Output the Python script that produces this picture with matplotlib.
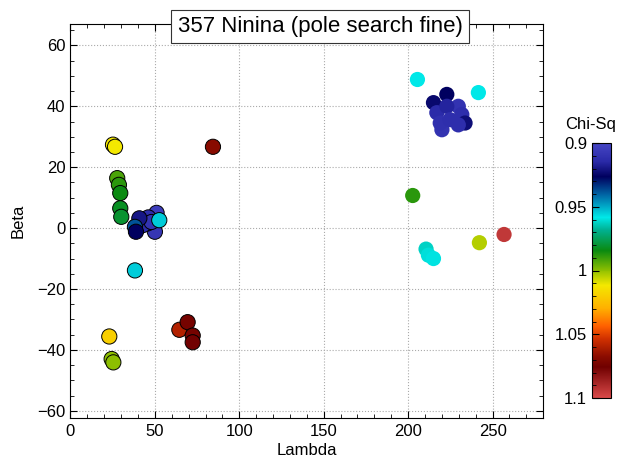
import matplotlib
matplotlib.use("Agg")
import matplotlib.pyplot as plt
import numpy as np
from matplotlib.colors import LinearSegmentedColormap, Normalize
from matplotlib.ticker import MultipleLocator

plt.rcParams['font.family'] = ['Liberation Sans', 'DejaVu Sans']

# Outlined solutions (left group)
lam_a = [25.2, 26.4, 84.4, 27.7, 28.7, 29.5, 29.5, 30.1,
         51.0, 50.0, 46.1, 45.5, 43.0, 48.0, 40.8, 38.2, 38.8, 52.6, 38.2,
         23.0, 24.4, 25.4, 64.5, 69.4, 72.4, 72.4]
beta_a = [27.4, 26.7, 26.7, 16.4, 14.2, 11.5, 6.5, 3.7,
          5.0, -1.2, 3.5, 1.5, 1.0, 2.0, 3.2, 0.4, -1.2, 2.6, -13.9,
          -35.6, -43.0, -44.1, -33.4, -30.9, -35.3, -37.5]
chi_a = [1.012, 1.012, 1.068, 0.992, 0.988, 0.984, 0.982, 0.980,
         0.905, 0.908, 0.912, 0.915, 0.914, 0.910, 0.920, 0.938, 0.926, 0.954, 0.954,
         1.020, 1.000, 1.000, 1.060, 1.074, 1.074, 1.076]

# Plain solutions (right group)
lam_b = [205.5, 241.6, 222.9, 215.0, 217.0, 220.0, 219.0, 229.7, 231.8,
         233.7, 229.7, 222.9, 224.8, 202.7, 210.6, 212.0, 215.0, 242.2, 256.8]
beta_b = [48.8, 44.5, 43.9, 41.2, 37.9, 32.3, 34.5, 40.0, 37.3,
          34.5, 33.9, 40.0, 35.6, 10.7, -6.9, -8.9, -10.0, -4.8, -2.1]
chi_b = [0.958, 0.958, 0.926, 0.924, 0.914, 0.910, 0.911, 0.910, 0.912,
         0.922, 0.912, 0.916, 0.912, 0.988, 0.962, 0.960, 0.959, 1.004, 1.094]

cmap = LinearSegmentedColormap.from_list("chisq", [
    (0.00, "#4646c4"),
    (0.07, "#2a2aa8"),
    (0.13, "#00005e"),
    (0.20, "#0064a4"),
    (0.29, "#00e8e8"),
    (0.34, "#00b090"),
    (0.42, "#0a8a10"),
    (0.50, "#90c000"),
    (0.56, "#f4e800"),
    (0.65, "#ffb000"),
    (0.72, "#ff6000"),
    (0.77, "#d03000"),
    (0.84, "#8a0c00"),
    (0.88, "#700000"),
    (1.00, "#d84848"),
])
norm = Normalize(0.9, 1.1)

fig = plt.figure(figsize=(6.18, 4.63), dpi=100)
ax = fig.add_axes([0.114, 0.097, 0.765, 0.851])

ax.scatter(lam_a, beta_a, c=chi_a, cmap=cmap, norm=norm, s=120,
           edgecolors='black', linewidths=0.7, zorder=3)
ax.scatter(lam_b, beta_b, c=chi_b, cmap=cmap, norm=norm, s=120,
           edgecolors='none', zorder=3)

ax.set_xlim(0, 280)
ax.set_ylim(-62.4, 67)
ax.xaxis.set_major_locator(MultipleLocator(50))
ax.xaxis.set_minor_locator(MultipleLocator(10))
ax.yaxis.set_major_locator(MultipleLocator(20))
ax.yaxis.set_minor_locator(MultipleLocator(5))
ax.tick_params(which='both', direction='in', top=True, right=True, labelsize=12)
ax.tick_params(which='major', length=5)
ax.tick_params(which='minor', length=3)
ax.tick_params(axis='x', pad=4)
ax.grid(True, which='major', linestyle=':', color='#aaaaaa', linewidth=0.8)
ax.set_axisbelow(True)
ax.set_xlabel("Lambda", fontsize=12, labelpad=3)
ax.set_ylabel("Beta", fontsize=12, labelpad=8)

fig.text(0.518, 0.943, "357 Ninina (pole search fine)", ha='center', va='center',
         fontsize=16, bbox=dict(boxstyle='square,pad=0.28', facecolor='white',
                                edgecolor='#333333', linewidth=0.8))

cax = fig.add_axes([592/618, 65/463, 19/618, 255/463])
sm = plt.cm.ScalarMappable(norm=norm, cmap=cmap)
cb = fig.colorbar(sm, cax=cax)
cb.ax.invert_yaxis()
cb.set_ticks([0.9, 0.95, 1.0, 1.05, 1.1])
cb.set_ticklabels(["0.9", "0.95", "1", "1.05", "1.1"])
cb.ax.yaxis.set_ticks_position('left')
cb.ax.yaxis.set_label_position('left')
cb.ax.yaxis.set_minor_locator(MultipleLocator(0.01))
cb.ax.tick_params(which='both', direction='in', labelsize=12)
cb.ax.tick_params(which='major', length=5)
cb.ax.tick_params(which='minor', length=3)
cb.outline.set_linewidth(0.8)
fig.text(591/618, 1 - 124/463, "Chi-Sq", ha='center', va='center', fontsize=12)

fig.savefig("out.png", dpi=100)
